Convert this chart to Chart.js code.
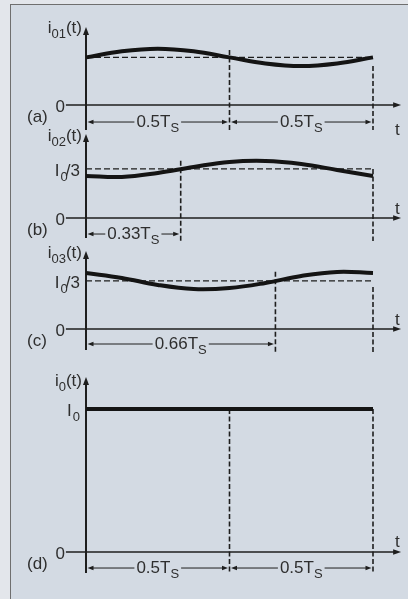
<!DOCTYPE html>
<html><head><meta charset="utf-8">
<script src="https://cdn.jsdelivr.net/npm/chart.js@4.4.1/dist/chart.umd.min.js"></script>
<style>
html,body{margin:0;padding:0;width:408px;height:599px;overflow:hidden;background:#e3e6eb;}
#frame{position:absolute;left:10px;top:4px;width:400px;height:600px;border-top:1.5px solid #6f6f6f;border-left:1.5px solid #6f6f6f;background:#d3dae3;}
.panel{position:absolute;left:0;width:408px;}
canvas{display:block;}
</style></head><body>
<div id="frame"></div>
<div class="panel" style="top:0px;height:140px"><canvas id="pa" width="408" height="140"></canvas></div>
<div class="panel" style="top:126px;height:124px"><canvas id="pb" width="408" height="124"></canvas></div>
<div class="panel" style="top:240px;height:120px"><canvas id="pc" width="408" height="120"></canvas></div>
<div class="panel" style="top:356px;height:243px"><canvas id="pd" width="408" height="243"></canvas></div>
<script>
// ---- data (values in units of I0, time in units of Ts) ----
const tSamples = [0, 0.125, 0.25, 0.375, 0.5, 0.625, 0.75, 0.875, 1];
const i01 = [0.333, 0.376, 0.394, 0.376, 0.333, 0.290, 0.272, 0.290, 0.333];
const i02 = [0.294, 0.287, 0.315, 0.357, 0.392, 0.399, 0.378, 0.336, 0.294];
const i03 = [0.392, 0.357, 0.308, 0.280, 0.287, 0.322, 0.371, 0.399, 0.392];
const tFlat = [0, 1];
const i0 = [1, 1];
const meanA = 0.333, meanB = 0.343, meanC = 0.336;
const markTa = [0.5, 1], markTb = [0.33, 1], markTc = [0.66, 1], markTd = [0.5, 1];
const dimA = [0, 0.5, 1], dimB = [0, 0.33], dimC = [0, 0.66], dimD = [0, 0.5, 1];
const dimLabelsA = ['0.5T', '0.5T'], dimLabelsB = ['0.33T'], dimLabelsC = ['0.66T'], dimLabelsD = ['0.5T', '0.5T'];

// ---- layout ----
const SCALE = 143;              // px per I0
const X0PX = 86, T1PX = 373, W = 408;
const LINE = '#1e1e1e', WAVE = '#141414', TEXT = '#2e2e2e';
const FONT = '"Liberation Sans", Arial, sans-serif';

function runsWidth(ctx, runs){
  let w = 0;
  for (const r of runs){ ctx.font = r[1] + 'px ' + FONT; w += ctx.measureText(r[0]).width + (r[3]||0); }
  return w;
}
function drawRuns(ctx, runs, x, base){
  let cx = x;
  ctx.fillStyle = TEXT; ctx.textBaseline = 'alphabetic'; ctx.textAlign = 'left';
  for (const r of runs){
    ctx.font = r[1] + 'px ' + FONT;
    cx += (r[3]||0);
    ctx.fillText(r[0], cx, base + r[2]);
    cx += ctx.measureText(r[0]).width;
  }
}
function arrow(ctx, x, y, dir, len, hw){
  ctx.beginPath();
  if (dir === 'up'){ ctx.moveTo(x, y); ctx.lineTo(x-hw, y+len); ctx.lineTo(x+hw, y+len); }
  else if (dir === 'right'){ ctx.moveTo(x, y); ctx.lineTo(x-len, y-hw); ctx.lineTo(x-len, y+hw); }
  else { ctx.moveTo(x, y); ctx.lineTo(x+len, y-hw); ctx.lineTo(x+len, y+hw); }
  ctx.closePath(); ctx.fillStyle = LINE; ctx.fill();
}

function makeChart(spec){
  const cv = document.getElementById(spec.canvas);
  const ymin = -(spec.top + spec.height - spec.zero) / SCALE;
  const ymax = (spec.zero - spec.top) / SCALE;
  const span = T1PX - X0PX;
  const xmin = -X0PX / span, xmax = (W - X0PX) / span;
  const datasets = [];
  if (spec.mean != null){
    datasets.push({data:[{x:0,y:spec.mean},{x:1,y:spec.mean}], borderColor:LINE, borderWidth:1.3,
      borderDash:[6,3], pointRadius:0, order:2, clip:false});
  }
  spec.marks.forEach((t, k) => {
    datasets.push({data:[{x:t,y:spec.markTop[k]},{x:t,y:spec.markBottom}], borderColor:LINE, borderWidth:1.6,
      borderDash:[5,2.5], pointRadius:0, order:2, clip:false});
  });
  datasets.push({data: spec.t.map((t,i)=>({x:t, y:spec.v[i]})), borderColor:WAVE, borderWidth:4,
    tension:0.4, pointRadius:0, order:0, clip:false, borderCapStyle:'butt'});

  const plugin = {
    id:'panelDecor',
    beforeDatasetsDraw(chart){
      const ctx = chart.ctx, xs = chart.scales.x, ys = chart.scales.y;
      const x0 = xs.getPixelForValue(0), zy = ys.getPixelForValue(0);
      const xEnd = xs.getPixelForValue(1.098);
      ctx.save();
      ctx.strokeStyle = LINE;
      // time axis
      ctx.lineWidth = 1.5;
      ctx.beginPath(); ctx.moveTo(xs.getPixelForValue(-0.07), zy); ctx.lineTo(xEnd - 5, zy); ctx.stroke();
      arrow(ctx, xEnd, zy, 'right', 8, 2.8);
      // vertical axis
      const tipY = ys.getPixelForValue(spec.tip);
      ctx.lineWidth = 2;
      ctx.beginPath(); ctx.moveTo(x0, ys.getPixelForValue(spec.axisBottom)); ctx.lineTo(x0, tipY + 5); ctx.stroke();
      arrow(ctx, x0, tipY, 'up', 8, 3);
      ctx.restore();
    },
    afterDatasetsDraw(chart){
      const ctx = chart.ctx, xs = chart.scales.x, ys = chart.scales.y;
      const x0 = xs.getPixelForValue(0), zy = ys.getPixelForValue(0);
      ctx.save();
      // axis name
      const tipY = ys.getPixelForValue(spec.tip);
      const nw = runsWidth(ctx, spec.name);
      drawRuns(ctx, spec.name, x0 - 4 - nw, tipY + spec.nameDy);
      // zero label
      const zr = [['0',17,0]];
      drawRuns(ctx, zr, x0 - 21 - runsWidth(ctx, zr) + 0, zy + 7);
      // panel letter
      drawRuns(ctx, [[spec.letter,17,0]], 27, zy + 17);
      // t label
      drawRuns(ctx, [['t',17,0]], 395, zy + spec.tDy);
      // level labels
      spec.levels.forEach(l => {
        const w = runsWidth(ctx, l.runs);
        drawRuns(ctx, l.runs, x0 - 6 - w, ys.getPixelForValue(l.v) + 7);
      });
      // dimension lines
      ctx.strokeStyle = LINE; ctx.lineWidth = 1;
      const dy = ys.getPixelForValue(spec.dimY);
      for (let k = 0; k < spec.dims.length - 1; k++){
        const a = xs.getPixelForValue(spec.dims[k]) + 1.5;
        const b = xs.getPixelForValue(spec.dims[k+1]) - 1.5;
        const runs = [[spec.dimLabels[k],17,0],['S',13,5]];
        const w = runsWidth(ctx, runs);
        const c = (a + b) / 2;
        ctx.beginPath();
        ctx.moveTo(a + 5, dy); ctx.lineTo(c - w/2 - 2, dy);
        ctx.moveTo(c + w/2 + 2, dy); ctx.lineTo(b - 5, dy);
        ctx.stroke();
        arrow(ctx, a, dy, 'left', 6, 2.2);
        arrow(ctx, b, dy, 'right', 6, 2.2);
        drawRuns(ctx, runs, c - w/2, dy + 5);
      }
      ctx.restore();
    }
  };

  new Chart(cv, {
    type:'line',
    data:{datasets},
    options:{
      responsive:false, animation:false, events:[],
      layout:{padding:0},
      plugins:{legend:{display:false}, tooltip:{enabled:false}},
      scales:{
        x:{type:'linear', min:xmin, max:xmax, display:false},
        y:{type:'linear', min:ymin, max:ymax, display:false}
      }
    },
    plugins:[plugin]
  });
}

makeChart({canvas:'pa', top:0, height:140, zero:105, t:tSamples, v:i01, mean:meanA,
  marks:markTa, markTop:[0.385, 0.273], markBottom:-0.175,
  tip:0.545, axisBottom:-0.175, name:[['i',17,0],['01',13,5],['(t)',17,0]], nameDy:6,
  letter:'(a)', tDy:30, levels:[], dims:dimA, dimLabels:dimLabelsA, dimY:-0.119});
makeChart({canvas:'pb', top:126, height:124, zero:218, t:tSamples, v:i02, mean:meanB,
  marks:markTb, markTop:[0.40, 0.343], markBottom:-0.16,
  tip:0.587, axisBottom:-0.14, name:[['i',17,0],['02',13,5],['(t)',17,0]], nameDy:7,
  letter:'(b)', tDy:-4, levels:[{v:meanB, runs:[['I',17,0],['0',13,5,1],['/3',17,0,-2]]}],
  dims:dimB, dimLabels:dimLabelsB, dimY:-0.112});
makeChart({canvas:'pc', top:240, height:120, zero:329, t:tSamples, v:i03, mean:meanC,
  marks:markTc, markTop:[0.40, 0.294], markBottom:-0.16,
  tip:0.545, axisBottom:-0.147, name:[['i',17,0],['03',13,5],['(t)',17,0]], nameDy:7,
  letter:'(c)', tDy:-4, levels:[{v:meanC, runs:[['I',17,0],['0',13,5,1],['/3',17,0,-2]]}],
  dims:dimC, dimLabels:dimLabelsC, dimY:-0.105});
makeChart({canvas:'pd', top:356, height:243, zero:552, t:tFlat, v:i0, mean:null,
  marks:markTd, markTop:[1, 1], markBottom:-0.154,
  tip:1.224, axisBottom:-0.147, name:[['i',17,0],['0',13,5],['(t)',17,0]], nameDy:9,
  letter:'(d)', tDy:-5, levels:[{v:1, runs:[['I',17,0],['0',13,5,1]]}],
  dims:dimD, dimLabels:dimLabelsD, dimY:-0.112});
</script>
</body></html>
